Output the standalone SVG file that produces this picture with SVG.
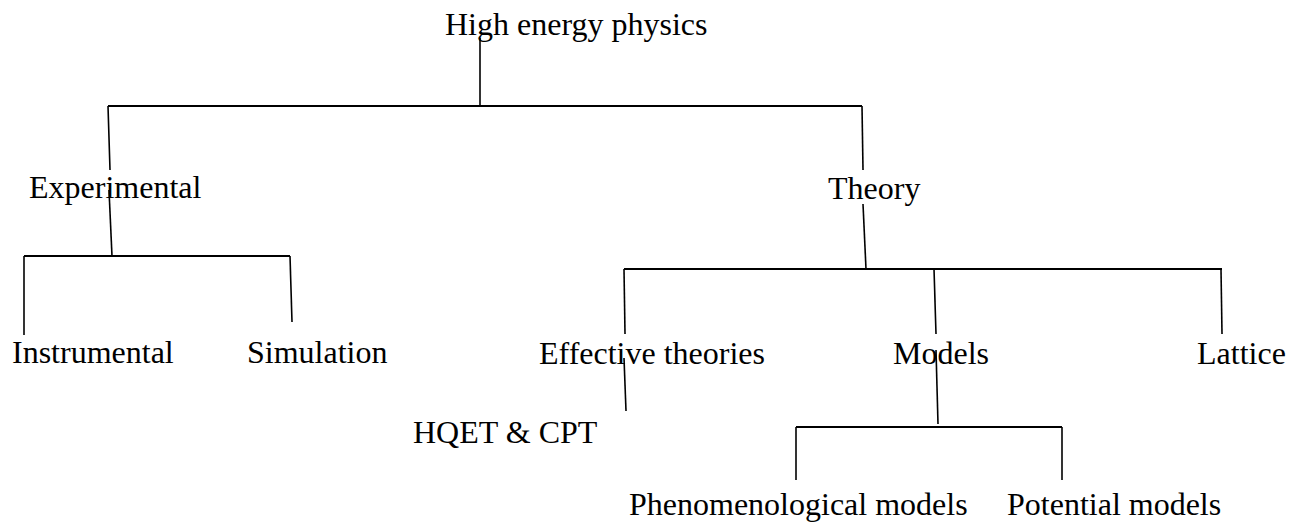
<svg xmlns="http://www.w3.org/2000/svg" width="1297" height="523" viewBox="0 0 1297 523">
<style>
text{font-family:"Liberation Serif","Times New Roman",serif;font-size:32px;fill:#000}
.h{stroke:#000;stroke-width:2;fill:none}
.v{stroke:#000;stroke-width:1.6;fill:none}
</style>
<rect width="1297" height="523" fill="#fff"/>
<g id="connectors">
<line class="v" x1="480" y1="38" x2="480" y2="106"/>
<line class="h" x1="108" y1="106" x2="862" y2="106"/>
<line class="v" x1="108" y1="106" x2="110" y2="170"/>
<line class="v" x1="109" y1="190" x2="112" y2="256"/>
<line class="h" x1="24" y1="256" x2="290" y2="256"/>
<line class="v" x1="24" y1="256" x2="24" y2="335"/>
<line class="v" x1="290" y1="256" x2="292" y2="322"/>
<line class="v" x1="862" y1="106" x2="863" y2="170"/>
<line class="v" x1="863" y1="204" x2="866" y2="269"/>
<line class="h" x1="624" y1="269" x2="1222" y2="269"/>
<line class="v" x1="624" y1="269" x2="625" y2="334"/>
<line class="v" x1="934" y1="269" x2="936" y2="334"/>
<line class="v" x1="1221" y1="269" x2="1222" y2="334"/>
<line class="v" x1="624" y1="358" x2="626" y2="411"/>
<line class="v" x1="936" y1="350" x2="938" y2="424"/>
<line class="h" x1="796" y1="427" x2="1062" y2="427"/>
<line class="v" x1="796" y1="427" x2="796" y2="480"/>
<line class="v" x1="1062" y1="427" x2="1062" y2="480"/>
</g>
<g id="n-hep"><text x="445" y="35">High energy physics</text></g>
<g id="n-experimental"><text x="29" y="198">Experimental</text></g>
<g id="n-theory"><text x="828" y="199">Theory</text></g>
<g id="n-instrumental"><text x="12" y="363">Instrumental</text></g>
<g id="n-simulation"><text x="247" y="363">Simulation</text></g>
<g id="n-effective"><text x="539" y="364">Effective theories</text></g>
<g id="n-models"><text x="893" y="364">Models</text></g>
<g id="n-lattice"><text x="1197" y="364">Lattice</text></g>
<g id="n-hqet"><text x="413" y="443">HQET &amp; CPT</text></g>
<g id="n-phenomenological"><text x="629" y="515">Phenomenological models</text></g>
<g id="n-potential"><text x="1007" y="515">Potential models</text></g>
</svg>
